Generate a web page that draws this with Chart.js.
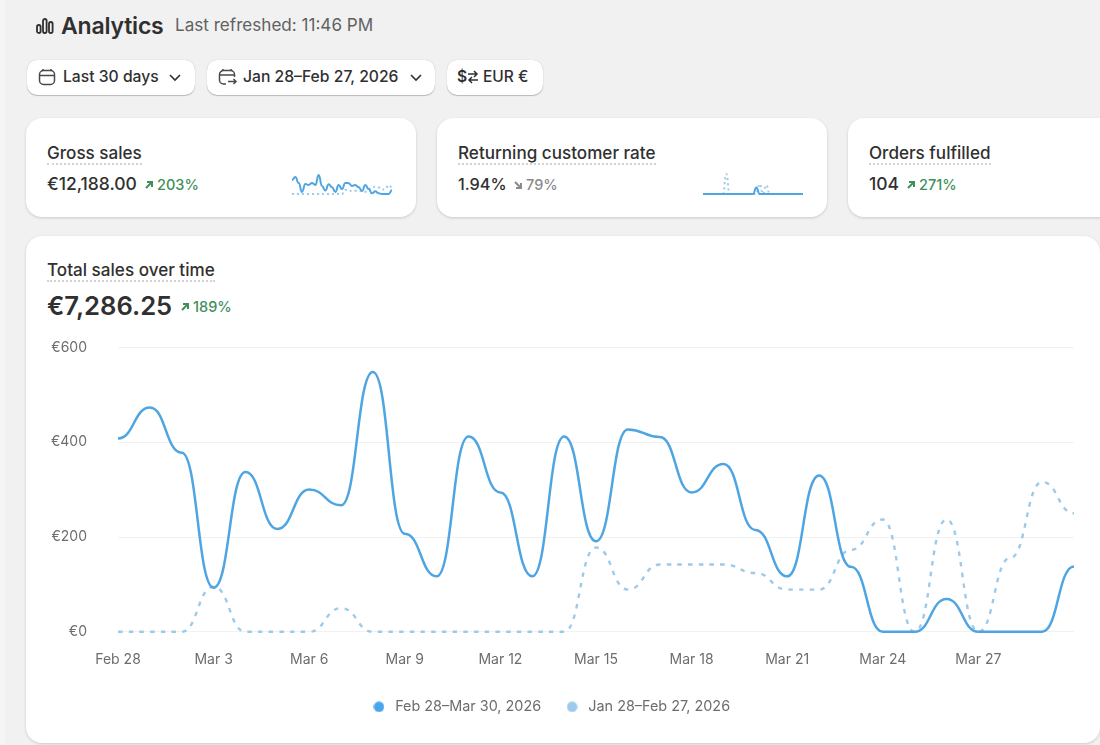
<!DOCTYPE html>
<html>
<head>
<meta charset="utf-8">
<title>Analytics</title>
<script src="https://cdn.jsdelivr.net/npm/chart.js@4/dist/chart.umd.js"></script>
<style>
    * { box-sizing: border-box; }
    html, body { margin: 0; padding: 0; }
    body {
        width: 1100px; height: 745px; position: relative; overflow: hidden;
        background: #f1f1f1; color: #303030;
        font-family: Inter, "Noto Sans", sans-serif; font-size: 14px;
    }
    .abs { position: absolute; white-space: nowrap; }
    #edge { left: 0; top: 0; width: 5px; height: 745px; background: #f5f5f5; }
    .page-title { left: 61px; top: 12px; font-size: 23px; line-height: 28px; font-weight: 600; letter-spacing: -0.2px; }
    .refreshed { left: 175px; top: 14px; font-size: 17.1px; line-height: 22px; color: #616161; }
    .btn {
        top: 60px; height: 35px; background: #fff; border-radius: 10px;
        box-shadow: 0 1px 1px rgba(0,0,0,.22), 0 0 1px rgba(0,0,0,.22);
        font-size: 15.7px; font-weight: 500; line-height: 34px; color: #303030;
    }
    .btn span { position: absolute; top: 0; }
    .btn svg { position: absolute; top: 0; }
    .card { background: #fff; border-radius: 16px; box-shadow: 0 1px 3px rgba(0,0,0,.16); }
    .kpi { top: 118px; height: 99px; }
    .kpi-name {
        position: absolute; left: 21px; top: 25px; font-size: 17.1px; line-height: 20px; font-weight: 500;
        border-bottom: 2px dotted #d2d2d2;
    }
    .kpi-value { position: absolute; left: 21px; top: 55px; font-size: 17.5px; line-height: 22px; font-weight: 500; }
    .delta { position: absolute; top: 57px; font-size: 14.5px; line-height: 20px; font-weight: 500; color: #3f8f5b; }
    .delta.down { color: #8a8a8a; }
    .delta svg { position: absolute; left: 0; top: 5px; }
    .spark { position: absolute; }
    #mainCard { left: 26px; top: 236px; width: 1074px; height: 507px; }
    .main-name {
        left: 21px; top: 24px; font-size: 17.1px; line-height: 20px; font-weight: 500;
        border-bottom: 2px dotted #d2d2d2;
    }
    .main-value { left: 21px; top: 53px; font-size: 25.6px; line-height: 34px; font-weight: 600; }
    .main-delta { left: 154px; top: 61px; font-size: 14.5px; line-height: 20px; font-weight: 500; color: #3f8f5b; padding-left: 13px; }
    .main-delta svg { position: absolute; left: 0; top: 5px; }
    #salesBox { position: absolute; left: 0; top: 72px; width: 1080px; height: 416px; }
</style>
</head>
<body>
<div id="edge" class="abs"></div>

<svg class="abs" style="left:36px;top:17px" width="18" height="18" viewBox="0 0 18 18" fill="none" stroke="#303030" stroke-width="1.8">
    <rect x="1" y="8" width="3.6" height="8" rx="1.8"/><rect x="7" y="2" width="3.6" height="14" rx="1.8"/><rect x="13" y="5" width="3.6" height="11" rx="1.8"/>
</svg>
<div class="abs page-title">Analytics</div>
<div class="abs refreshed">Last refreshed: 11:46 PM</div>

<div class="abs btn" style="left:27px;width:168px">
    <svg style="left:11px;top:8px" width="18" height="18" viewBox="0 0 18 18" fill="none" stroke="#4a4a4a" stroke-width="1.5">
        <rect x="1.5" y="2.5" width="15" height="14" rx="4"/><path d="M1.5 7.5h15M5 1v2M13 1v2"/>
    </svg>
    <span style="left:36px">Last 30 days</span>
    <svg style="left:141px;top:13px" width="14" height="10" viewBox="0 0 14 10" fill="none" stroke="#303030" stroke-width="1.6"><path d="M2 2l5 5 5-5"/></svg>
</div>
<div class="abs btn" style="left:207px;width:228px">
    <svg style="left:11px;top:8px" width="20" height="18" viewBox="0 0 20 18" fill="none" stroke="#4a4a4a" stroke-width="1.5">
        <path d="M8 16H5.5a4 4 0 0 1-4-4V6.5a4 4 0 0 1 4-4h7a4 4 0 0 1 4 4V9M1.5 7h15M5 1v2M13 1v2M10 13.5h8M15.5 11l2.5 2.5-2.5 2.5"/>
    </svg>
    <span style="left:36px">Jan 28–Feb 27, 2026</span>
    <svg style="left:202px;top:13px" width="14" height="10" viewBox="0 0 14 10" fill="none" stroke="#303030" stroke-width="1.6"><path d="M2 2l5 5 5-5"/></svg>
</div>
<div class="abs btn" style="left:447px;width:96px">
    <span style="left:10px;font-weight:600">$</span>
    <svg style="left:20px;top:9px" width="12" height="16" viewBox="0 0 12 16" fill="none" stroke="#303030" stroke-width="1.5"><path d="M1 5h9M7 2l3 3-3 3M11 11H2M5 8l-3 3 3 3"/></svg>
    <span style="left:36px;font-size:15.5px">EUR €</span>
</div>

<div class="abs card kpi" style="left:26px;width:390px">
    <div class="kpi-name">Gross sales</div>
    <div class="kpi-value">€12,188.00</div>
    <div class="delta" style="left:118px;padding-left:13px">
        <svg width="10" height="10" viewBox="0 0 10 10" fill="none" stroke="#3f8f5b" stroke-width="2"><path d="M2 8l6-6M3 2h5v5"/></svg>203%
    </div>
    <div class="spark" style="left:266px;top:50px;width:102px;height:30px"><canvas id="grossSpark"></canvas></div>
</div>
<div class="abs card kpi" style="left:437px;width:390px">
    <div class="kpi-name">Returning customer rate</div>
    <div class="kpi-value" style="font-size:16.3px">1.94%</div>
    <div class="delta down" style="left:76px;padding-left:13px">
        <svg width="10" height="10" viewBox="0 0 10 10" fill="none" stroke="#8a8a8a" stroke-width="2"><path d="M2 2l6 6M8 3v5H3"/></svg>79%
    </div>
    <div class="spark" style="left:266px;top:50px;width:102px;height:30px"><canvas id="returningSpark"></canvas></div>
</div>
<div class="abs card kpi" style="left:848px;width:280px">
    <div class="kpi-name">Orders fulfilled</div>
    <div class="kpi-value">104</div>
    <div class="delta" style="left:58px;padding-left:13px">
        <svg width="10" height="10" viewBox="0 0 10 10" fill="none" stroke="#3f8f5b" stroke-width="2"><path d="M2 8l6-6M3 2h5v5"/></svg>271%
    </div>
</div>

<div class="abs card" id="mainCard">
    <div class="abs main-name">Total sales over time</div>
    <div class="abs main-value">€7,286.25</div>
    <div class="abs main-delta">
        <svg width="10" height="10" viewBox="0 0 10 10" fill="none" stroke="#3f8f5b" stroke-width="2"><path d="M2 8l6-6M3 2h5v5"/></svg>189%
    </div>
    <div id="salesBox"><canvas id="salesChart"></canvas></div>
</div>

<script>
// ================= DATA =================
const dates = ["Feb 28", "Mar 1", "Mar 2", "Mar 3", "Mar 4", "Mar 5", "Mar 6", "Mar 7", "Mar 8", "Mar 9", "Mar 10",
    "Mar 11", "Mar 12", "Mar 13", "Mar 14", "Mar 15", "Mar 16", "Mar 17", "Mar 18", "Mar 19", "Mar 20",
    "Mar 21", "Mar 22", "Mar 23", "Mar 24", "Mar 25", "Mar 26", "Mar 27", "Mar 28", "Mar 29", "Mar 30"];
const tickDates = ["Feb 28", "Mar 3", "Mar 6", "Mar 9", "Mar 12", "Mar 15", "Mar 18", "Mar 21", "Mar 24", "Mar 27"];

const currentLabel = "Feb 28–Mar 30, 2026";
const previousLabel = "Jan 28–Feb 27, 2026";

const currentSales = [408, 473, 378, 93, 337, 217, 300, 267, 548, 207, 117, 412, 294, 117, 412, 191,
    427, 411, 294, 354, 215, 117, 330, 137, 0, 0, 69, 0, 0, 0, 138];
const previousSales = [0, 0, 0, 95, 0, 0, 0, 50, 0, 0, 0, 0, 0, 0, 0, 178,
    89, 142, 142, 142, 124, 89, 89, 173, 237, 0, 237, 0, 156, 316, 250];

const grossCurrent = [610, 740, 480, 90, 440, 390, 480, 390, 830, 350, 150, 420, 290, 90, 390, 220,
    480, 470, 350, 390, 290, 130, 390, 220, 30, 120, 30, 0, 0, 0, 160];
const grossPrevious = [0, 0, 0, 0, 0, 0, 0, 0, 0, 0, 0, 0, 0, 0, 0, 0,
    180, 130, 140, 140, 130, 120, 100, 200, 300, 310, 280, 180, 220, 390, 290];

const returningCurrent = [0, 0, 0, 0, 0, 0, 0, 0, 0, 0, 0, 0, 0, 0, 0, 0,
    33, 0, 0, 0, 0, 0, 0, 0, 0, 0, 0, 0, 0, 0, 0];
const returningPrevious = [0, 0, 0, 0, 0, 0, 0, 100, 0, 0, 0, 0, 0, 0, 0, 0,
    0, 50, 0, 45, 0, 0, 0, 0, 0, 0, 0, 0, 0, 0, 0];

// ================= STYLES =================
const solidBlue = "#4fa5e2";
const paleBlue = "#9ccaea";
const dotBlue = "#48a7ea";
const dashPattern = [4.5, 6.2];
const textGray = "#6d6d6d";

// Every point gets a flat tangent, the curve runs as a smooth step between days
const flatTangents = {
    id: "flatTangents",
    beforeDatasetDraw(chart, args) {
        const line = args.meta.dataset;
        const pts = args.meta.data;
        line.updateControlPoints(chart.chartArea);
        pts.forEach((pt, i) => {
            const next = pts[i + 1] || pt;
            const prev = pts[i - 1] || pt;
            pt.cp1x = pt.x - (pt.x - prev.x) * 0.5;
            pt.cp1y = pt.y;
            pt.cp2x = pt.x + (next.x - pt.x) * 0.5;
            pt.cp2y = pt.y;
        });
    }
};

// Round legend marker, drawn on a canvas so the gap to the text can be set on its own
function legendDot(color) {
    const dot = document.createElement("canvas");
    dot.width = 11;
    dot.height = 11;
    const c = dot.getContext("2d");
    c.fillStyle = color;
    c.beginPath();
    c.arc(5.5, 5.5, 5.2, 0, Math.PI * 2);
    c.fill();
    return dot;
}

function lineSet(label, data, color, width, dash) {
    return {
        label: label,
        data: data,
        borderColor: color,
        backgroundColor: color,
        borderWidth: width,
        borderDash: dash,
        tension: 0.4,
        pointRadius: 0,
        fill: false,
        clip: false
    };
}

// ================= SPARKLINES =================
function sparkChart(id, current, previous, top) {
    return new Chart(document.getElementById(id), {
        type: "line",
        data: {
            labels: dates,
            datasets: [
                lineSet(currentLabel, current, solidBlue, 2, []),
                lineSet(previousLabel, previous, paleBlue, 2, [2, 3])
            ]
        },
        options: {
            responsive: true,
            maintainAspectRatio: false,
            animation: false,
            layout: { padding: { top: 3, bottom: 4, left: 0, right: 2 } },
            plugins: { legend: { display: false }, tooltip: { enabled: false } },
            scales: { x: { display: false }, y: { display: false, min: 0, max: top } }
        },
        plugins: [flatTangents]
    });
}

sparkChart("grossSpark", grossCurrent, grossPrevious, 1000);
sparkChart("returningSpark", returningCurrent, returningPrevious, 115);

// ================= MAIN CHART =================
const salesChart = new Chart(document.getElementById("salesChart"), {
    type: "line",
    data: {
        labels: dates,
        datasets: [
            lineSet(currentLabel, currentSales, solidBlue, 2.5, []),
            lineSet(previousLabel, previousSales, paleBlue, 2.4, dashPattern)
        ]
    },
    options: {
        responsive: true,
        maintainAspectRatio: false,
        animation: false,
        layout: { padding: { top: 12, right: 32, left: 0, bottom: 0 } },
        plugins: {
            tooltip: { enabled: false },
            legend: {
                position: "bottom",
                labels: {
                    usePointStyle: true,
                    pointStyleWidth: 18,
                    boxHeight: 8,
                    padding: 22,
                    color: textGray,
                    font: { family: "Inter", size: 14.4 },
                    generateLabels(chart) {
                        return Chart.defaults.plugins.legend.labels.generateLabels(chart).map((item) => {
                            item.lineWidth = 0;
                            item.lineDash = [];
                            item.pointStyle = legendDot(item.datasetIndex === 0 ? dotBlue : paleBlue);
                            return item;
                        });
                    }
                }
            }
        },
        scales: {
            x: {
                afterFit(scale) { scale.height -= 3; },
                grid: { display: false },
                border: { display: false },
                ticks: {
                    autoSkip: false,
                    maxRotation: 0,
                    padding: 12,
                    color: textGray,
                    font: { family: "Inter", size: 14 },
                    callback(value) {
                        const name = this.getLabelForValue(value);
                        return tickDates.includes(name) ? name : "";
                    }
                }
            },
            y: {
                min: 0,
                max: 600,
                afterFit(scale) { scale.width = 92; },
                grid: { color: "#f1f1f1", lineWidth: 1, drawTicks: false },
                border: { display: false },
                ticks: {
                    stepSize: 200,
                    padding: 31,
                    color: textGray,
                    font: { family: "Inter", size: 14 },
                    callback(value) { return "€" + value; }
                }
            }
        }
    },
    plugins: [flatTangents]
});
</script>
</body>
</html>
